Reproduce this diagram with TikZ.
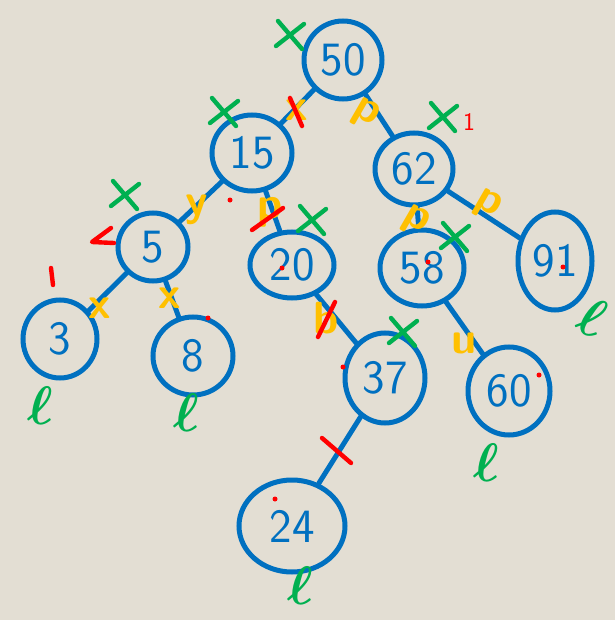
\documentclass[tikz,border=0pt]{standalone}
\usepackage{tikz}
\usetikzlibrary{shapes.geometric}
\usepackage{amsmath}
\usepackage{amssymb}

\definecolor{paper}{HTML}{E3DED3}
\definecolor{ink}{HTML}{0070C0}
\definecolor{okgreen}{HTML}{00B050}
\definecolor{hiyellow}{HTML}{FFC000}
\definecolor{pen}{HTML}{FF0000}

\tikzset{
  tnode/.style={ellipse, draw=ink, line width=1.25mm, inner sep=0pt, text=ink,
    font=\sffamily\fontsize{34}{34}\selectfont},
  edge/.style={draw=ink, line width=1.25mm, line cap=round},
  penline/.style={line width=1.1mm, line cap=round, line join=round},
  ymark/.style={text=hiyellow, inner sep=0pt, font=\sffamily\bfseries\fontsize{32}{32}\selectfont},
  lmark/.style={text=okgreen, inner sep=0pt, font=\Huge, scale=1.55, transform shape},
  xmark/.pic={\draw[penline, okgreen] (-12,-14) -- (12,14) (-14,11) -- (14,-11);}
}

\begin{document}
\begin{tikzpicture}[x=0.25mm,y=-0.25mm]
    % Paper
    \fill[paper] (0,0) rectangle (615,620);
    \useasboundingbox (0,0) rectangle (615,620);
    % Nodes
    \node[tnode, minimum width=19.5mm, minimum height=19.5mm] (n50) at (343,60) {50};
    \node[tnode, minimum width=20mm,   minimum height=19mm]   (n15) at (252,153) {15};
    \node[tnode, minimum width=19.5mm, minimum height=18mm]   (n62) at (414,169) {62};
    \node[tnode, minimum width=17.5mm, minimum height=17mm]   (n5)  at (153,247) {5};
    \node[tnode, minimum width=21mm,   minimum height=16.5mm] (n20) at (292,265) {20};
    \node[tnode, minimum width=21mm,   minimum height=19mm]   (n58) at (422,268) {58};
    \node[tnode, minimum width=18.5mm, minimum height=24.5mm] (n91) at (555,261) {91};
    \node[tnode, minimum width=18.5mm, minimum height=19.5mm] (n3)  at (60,339)  {3};
    \node[tnode, minimum width=20mm,   minimum height=19.5mm] (n8)  at (193,356) {8};
    \node[tnode, minimum width=20mm,   minimum height=22.5mm] (n37) at (385,378) {37};
    \node[tnode, minimum width=20.5mm, minimum height=22mm]   (n60) at (509,391) {60};
    \node[tnode, minimum width=26.5mm, minimum height=23mm]   (n24) at (292,526) {24};
    % Edges
    \foreach \a/\b in {n50/n15,n50/n62,n15/n5,n15/n20,n62/n58,n62/n91,
                       n5/n3,n5/n8,n20/n37,n58/n60,n37/n24}
      \draw[edge] (\a) -- (\b);
    % Green crosses
    \foreach \p in {(290,35),(224,112),(443,117),(125,195),(312,220),(455,237),(403,332)}
      \pic at \p {xmark};
    % Yellow marks on the edges
    \node[ymark] (y1)  at (297,110) {x};
    \node[ymark, rotate=-30] (y2)  at (366,114) {p};
    \node[ymark] (y3)  at (197,210) {y};
    \node[ymark] (y4)  at (270,212) {p};
    \node[ymark, rotate=-30] (y5)  at (416,221) {p};
    \node[ymark, rotate=-30] (y6)  at (488,205) {p};
    \node[ymark] (y7)  at (100,308) {x};
    \node[ymark] (y8)  at (170,298) {x};
    \node[ymark] (y9)  at (326,318) {b};
    \node[ymark] (y10) at (464,343) {u};
    % Red marks
    \draw[penline, pen] (290,98) -- (302,126);
    \draw[penline, pen] (252,230) -- (283,208);
    \draw[penline, pen] (318,337) -- (335,302);
    \draw[penline, pen] (322,438) -- (351,463);
    \draw[penline, pen] (111,228) -- (92,242) -- (114,243);
    \draw[penline, pen] (51,268) -- (53,285);
    \node[text=pen, font=\sffamily\fontsize{18}{18}\selectfont] (one) at (469,122) {1};
    \foreach \p in {(230,200),(282,268),(208,318),(343,367),(428,262),(275,499),(563,267),(539,375)}
      \fill[pen] \p circle (2.5);
    % Leaves
    \node[lmark] (l3)  at (40,406)  {$\boldsymbol{\ell}$};
    \node[lmark] (l8)  at (186,413) {$\boldsymbol{\ell}$};
    \node[lmark, rotate=-20] (l91) at (592,317) {$\boldsymbol{\ell}$};
    \node[lmark] (l60) at (486,463) {$\boldsymbol{\ell}$};
    \node[lmark] (l24) at (300,586) {$\boldsymbol{\ell}$};
\end{tikzpicture}
\end{document}
